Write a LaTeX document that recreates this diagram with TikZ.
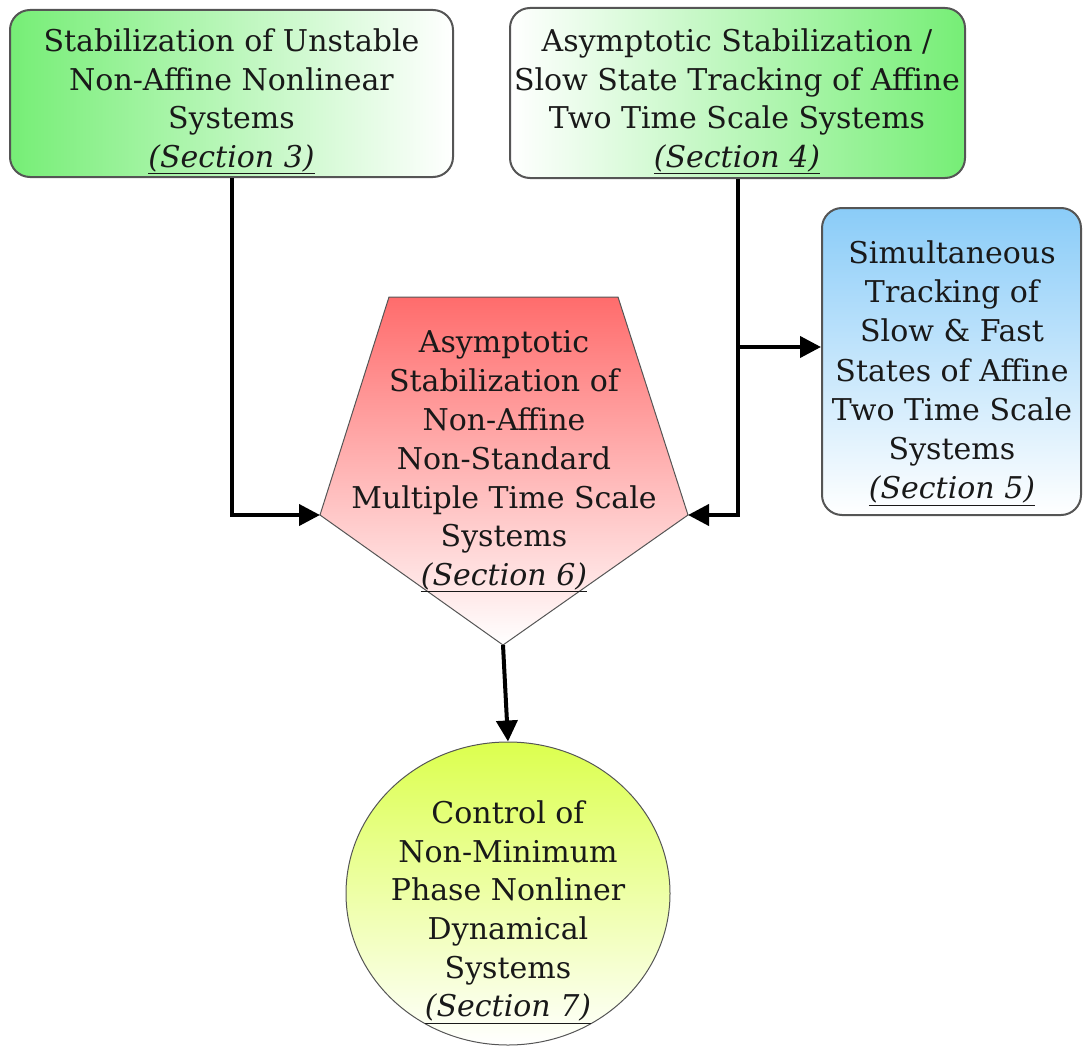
\documentclass[tikz,border=0pt]{standalone}
\usepackage{fontspec}
\setmainfont{DejaVu Serif}
\usetikzlibrary{arrows.meta,shapes.geometric}
\definecolor{boxgreen}{RGB}{118,238,118}
\definecolor{boxblue}{RGB}{138,204,248}
\definecolor{boxred}{RGB}{255,108,108}
\definecolor{boxlime}{RGB}{220,255,78}
\definecolor{edgegray}{RGB}{85,85,85}
\definecolor{txt}{RGB}{25,25,25}
\newcommand{\secref}[1]{\underline{\textit{(Section #1)}}}
\begin{document}
\begin{tikzpicture}[x=1pt,y=-1pt,
 box/.style={draw=edgegray,line width=2pt,rounded corners=20pt,inner sep=0pt},
 txtblock/.style={align=center,inner sep=0pt,text=txt,font=\fontsize{30}{38.5}\selectfont},
 flow/.style={line width=4pt,-{Triangle[length=21pt,width=21pt]}}]
\useasboundingbox (0,0) rectangle (1083,1046);
%boxes
\node[box,left color=boxgreen,right color=white,minimum width=443pt,minimum height=167pt] (sec3) at (231.5,93.5) {};
\node[txtblock] (sec3txt) at (231.5,101.5) {Stabilization of Unstable\\Non-Affine Nonlinear\\Systems\\\secref{3}};
\node[box,left color=white,right color=boxgreen,minimum width=455pt,minimum height=170pt] (sec4) at (737.5,93) {};
\node[txtblock] (sec4txt) at (737,101.5) {Asymptotic Stabilization /\\Slow State Tracking of Affine\\Two Time Scale Systems\\\secref{4}};
\node[box,top color=boxblue,bottom color=white,minimum width=259pt,minimum height=307pt] (sec5) at (951.5,361.5) {};
\node[txtblock,font=\fontsize{30}{39.2}\selectfont] (sec5txt) at (952,373) {Simultaneous\\Tracking of\\Slow \& Fast\\States of Affine\\Two Time Scale\\Systems\\\secref{5}};
%pentagon
\coordinate (pentL) at (320,515);
\coordinate (pentR) at (688,515);
\coordinate (pentB) at (503,645);
\shade[top color=boxred,bottom color=white,draw=edgegray,line width=1pt] (389,297)--(618,297)--(pentR)--(pentB)--(pentL)--cycle;
\node[txtblock,font=\fontsize{30}{38.8}\selectfont] (sec6) at (504,461.5) {Asymptotic\\Stabilization of\\Non-Affine\\Non-Standard\\Multiple Time Scale\\Systems\\\secref{6}};
%ellipse
\node[ellipse,draw=edgegray,line width=1pt,top color=boxlime,bottom color=white,minimum width=324pt,minimum height=303pt,inner sep=0pt] (sec7) at (508,893.5) {};
\node[txtblock,font=\fontsize{30}{38.7}\selectfont] (sec7txt) at (508,912) {Control of\\Non-Minimum\\Phase Nonliner\\Dynamical\\Systems\\\secref{7}};
%arrows
\draw[flow] (sec3.south)|-(pentL);
\draw[flow] (sec4.south)|-(pentR);
\coordinate (branch) at (sec4.south|-0,347);
\draw[flow] (branch)--(branch-|sec5.west);
\draw[flow] (pentB)--(sec7.north);
\end{tikzpicture}
\end{document}
